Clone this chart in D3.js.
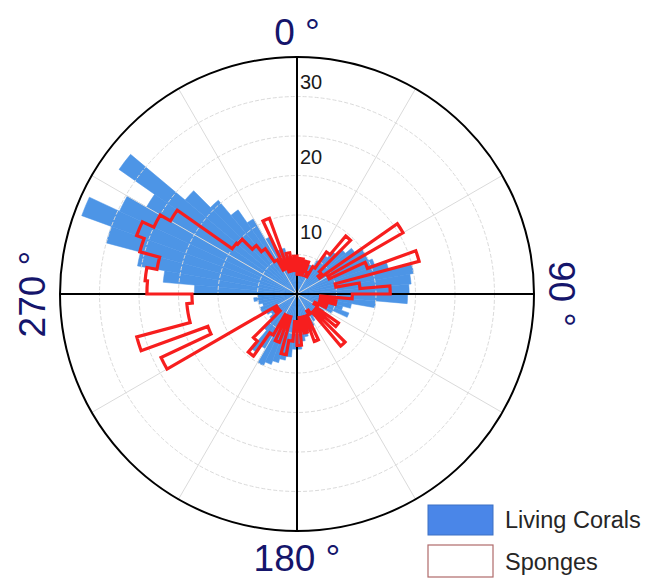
<!DOCTYPE html>
<html>
<head>
<meta charset="utf-8">
<script src="https://cdn.jsdelivr.net/npm/d3@7"></script>
<style>
html, body { margin: 0; padding: 0; background: #fff; }
svg { display: block; }
</style>
</head>
<body>
<svg id="chart" width="646" height="581"></svg>
<script>
// bin start angles (degrees, clockwise from north), 5° bins
const binStart = [
  0, 5, 10, 15, 20, 25, 30, 35, 40, 45, 50, 55,
  60, 65, 70, 75, 80, 85, 90, 95, 100, 105, 110, 115,
  120, 125, 130, 135, 140, 145, 150, 155, 160, 165, 170, 175,
  180, 185, 190, 195, 200, 205, 210, 215, 220, 225, 230, 235,
  240, 245, 250, 255, 260, 265, 270, 275, 280, 285, 290, 295,
  300, 305, 310, 315, 320, 325, 330, 335, 340, 345, 350, 355
];
const binWidth = 5;

const livingCorals = [
  3, 3, 3, 3.5, 4, 4, 5, 6, 7, 8, 9, 10,
  10, 10.5, 12, 15, 14.5, 14.2, 14, 10, 7, 6, 7, 5,
  4, 4, 3.5, 4, 3.5, 4, 4.5, 5, 5, 5.5, 6, 7,
  7, 8, 8.5, 9, 9.5, 10, 8, 9, 6, 4.5, 4, 4.5,
  5, 5, 4.5, 5, 5.5, 5, 13, 17, 20.5, 25, 29, 24.8,
  22, 27.5, 18.5, 15.5, 13, 11, 8, 6, 6, 5, 4.5, 4
];

const sponges = [
  2.5, 4.5, 2.5, 4.3, 3, 2.5, 4, 6.5, 9.6, 4, 3.5, 15.5,
  4.5, 9.5, 16, 5, 8, 11.8, 7, 3, 5, 3, 4, 2.5,
  3, 6.4, 3, 8.6, 3, 2.5, 3, 6.4, 3, 5, 3, 6.5,
  3.5, 6, 7.8, 3, 6.5, 3, 6, 9.6, 7.8, 3, 3.5, 3,
  19, 12, 21, 14, 14, 13.3, 19, 19.3, 18, 20.6, 21.6, 20,
  18.5, 10, 9.8, 8, 7, 5, 3.5, 10.2, 3, 5.3, 3, 4.8
];

const ringValues = [5, 10, 15, 20, 25];
const radialTickLabels = [10, 20, 30];
const spokeAngles = [30, 60, 120, 150, 210, 240, 300, 330];
const axisAngles = [0, 90, 180, 270];
const angleLabels = ["0 °", "90 °", "180 °", "270 °"];
const legendLabels = ["Living Corals", "Sponges"];

const svg = d3.select("#chart");
const cx = 297, cy = 294, outerR = 237;
const r = d3.scaleLinear().domain([0, 30]).range([0, outerR]);
const rad = d => d * Math.PI / 180;

const g = svg.append("g").attr("transform", `translate(${cx},${cy})`);

// Living corals bars
const arc = d3.arc()
    .innerRadius(0)
    .outerRadius(d => r(d.v))
    .startAngle(d => rad(d.a))
    .endAngle(d => rad(d.a + binWidth));

g.append("g")
    .selectAll("path")
    .data(binStart.map((a, i) => ({ a, v: livingCorals[i] })))
    .join("path")
    .attr("d", arc)
    .attr("fill", "#4d95e6")
    .attr("stroke", "#4d95e6")
    .attr("stroke-width", 0.5);

// grid
const grid = g.append("g");
grid.selectAll("circle")
    .data(ringValues)
    .join("circle")
    .attr("r", d => r(d))
    .attr("fill", "none")
    .attr("stroke", "#dadada")
    .attr("stroke-width", 1)
    .attr("stroke-dasharray", "4,2");

grid.selectAll("line")
    .data(spokeAngles)
    .join("line")
    .attr("x1", 0).attr("y1", 0)
    .attr("x2", d => r(30) * Math.sin(rad(d)))
    .attr("y2", d => -r(30) * Math.cos(rad(d)))
    .attr("stroke", "#dadada")
    .attr("stroke-width", 1);

// axes
g.append("g")
    .selectAll("line")
    .data(axisAngles)
    .join("line")
    .attr("x1", 0).attr("y1", 0)
    .attr("x2", d => r(30) * Math.sin(rad(d)))
    .attr("y2", d => -r(30) * Math.cos(rad(d)))
    .attr("stroke", "#000")
    .attr("stroke-width", 2);

// Sponges outline (envelope of the rose)
const p = d3.path();
binStart.forEach((a, i) => {
    p.arc(0, 0, r(sponges[i]), rad(a - 90), rad(a + binWidth - 90), false);
});
p.closePath();
g.append("path")
    .attr("d", p.toString())
    .attr("fill", "none")
    .attr("stroke", "#f71e1e")
    .attr("stroke-width", 3.2)
    .attr("stroke-linejoin", "miter");

// outer circle
g.append("circle")
    .attr("r", r(30))
    .attr("fill", "none")
    .attr("stroke", "#000")
    .attr("stroke-width", 2);

// radial tick labels
g.append("g")
    .selectAll("text")
    .data(radialTickLabels)
    .join("text")
    .attr("x", 3)
    .attr("y", d => -r(d * 0.95) + 20)
    .attr("font-family", "Liberation Sans, Arial, sans-serif")
    .attr("font-size", 20)
    .attr("fill", "#1a1a1a")
    .text(d => d);

// angle labels
const lab = g.append("g")
    .attr("font-family", "Liberation Sans, Arial, sans-serif")
    .attr("font-size", 37)
    .attr("fill", "#15156b")
    .attr("text-anchor", "middle");

lab.append("text").attr("x", 0).attr("y", -r(30) - 12).text(angleLabels[0]);
lab.append("text")
    .attr("transform", `translate(${r(30) + 15},0) rotate(90)`)
    .text(angleLabels[1]);
lab.append("text").attr("x", 0).attr("y", r(30) + 40).text(angleLabels[2]);
lab.append("text")
    .attr("transform", `translate(${-r(30) - 15},0) rotate(-90)`)
    .text(angleLabels[3]);

// legend
const legend = svg.append("g").attr("transform", "translate(428,505)");
legend.append("rect")
    .attr("x", 0).attr("y", 0)
    .attr("width", 65).attr("height", 30)
    .attr("fill", "#4a86e8")
    .attr("stroke", "#3d70c4");
legend.append("rect")
    .attr("x", 0).attr("y", 40)
    .attr("width", 65).attr("height", 32)
    .attr("fill", "#fff")
    .attr("stroke", "#b06a6a")
    .attr("stroke-width", 1.2);
legend.selectAll("text")
    .data(legendLabels)
    .join("text")
    .attr("x", 77)
    .attr("y", (d, i) => 23 + i * 42)
    .attr("font-family", "Liberation Sans, Arial, sans-serif")
    .attr("font-size", 23.5)
    .attr("fill", "#262626")
    .text(d => d);
</script>
</body>
</html>
